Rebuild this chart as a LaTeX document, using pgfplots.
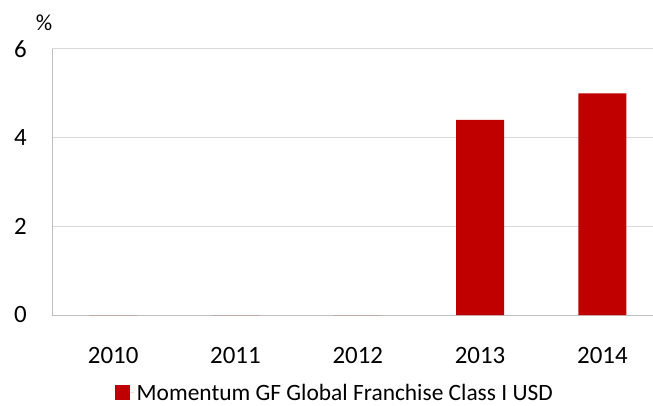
\documentclass[border=0pt]{standalone}
\usepackage{fontspec}
\setmainfont{Carlito}
\usepackage{pgfplots}
\pgfplotsset{compat=1.18}
\definecolor{barred}{RGB}{192,0,0}
\definecolor{gridgray}{RGB}{217,217,217}
\definecolor{axisgray}{RGB}{191,191,191}
\begin{document}
\begin{tikzpicture}
\begin{axis}[
  at={(0,0)}, anchor=south west,
  scale only axis, width=601bp, height=266bp,
  xmin=-0.5, xmax=4.414, ymin=0, ymax=6,
  ytick={0,2,4,6},
  xtick={0,1,2,3,4}, xticklabels={2010,2011,2012,2013,2014},
  ymajorgrids, major grid style={draw=gridgray, line width=1bp},
  axis x line*=bottom, axis y line*=left,
  axis line style={-, draw=axisgray, line width=1bp},
  tick style={draw=none},
  /pgf/number format/assume math mode=true,
  ticklabel style={font=\fontsize{25}{25}\selectfont, inner sep=0pt},
  yticklabel style={anchor=east, xshift=-25bp},
  xticklabel style={anchor=north, yshift=-32bp},
  legend style={at={(rel axis cs:0.4705,-0.2932)}, anchor=center, draw=none, fill=none,
    font=\fontsize{23.5}{23.5}\selectfont, inner sep=0pt},
  legend image code/.code={\fill[barred] (0bp,-7.5bp) rectangle (15bp,7.5bp);
    \path (0bp,0bp) -- (20bp,0bp);},
  clip=false,
]
\addplot[ybar, bar width=48bp, fill=barred, draw=none] coordinates {(0,0) (1,0) (2,0) (3,4.4) (4,5.0)};
\addlegendentry{Momentum GF Global Franchise Class I USD}
\node[font=\fontsize{23}{23}\selectfont] at (rel axis cs:0,1) [xshift=-8bp, yshift=26bp] {\%};
\end{axis}
\pgfresetboundingbox
\path (-52bp,-91bp) rectangle (601bp,315bp);
\end{tikzpicture}
\end{document}
